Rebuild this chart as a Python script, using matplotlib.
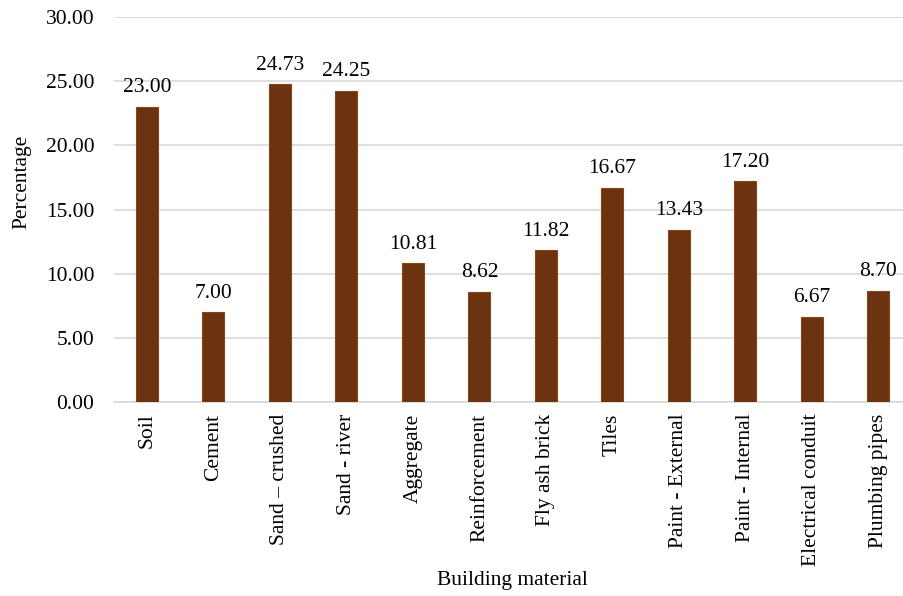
import matplotlib
matplotlib.use("Agg")
import matplotlib.pyplot as plt

categories = ["Soil", "Cement", "Sand \u2013 crushed", "Sand - river", "Aggregate",
              "Reinforcement", "Fly ash brick", "Tiles", "Paint - External",
              "Paint - Internal", "Electrical conduit", "Plumbing pipes"]
values = [23.00, 7.00, 24.73, 24.25, 10.81, 8.62, 11.82, 16.67, 13.43, 17.20, 6.67, 8.70]
yticks = [0, 5, 10, 15, 20, 25, 30]

plt.rcParams['font.family'] = ['Liberation Serif', 'DejaVu Serif']
FS = 15.5

fig = plt.figure(figsize=(9.04, 5.96), dpi=100)
ax = fig.add_axes([0.1258, 0.3247, 0.8827, 0.6473])

x = range(len(categories))
ax.bar(x, values, width=0.33, color='#6B330F', edgecolor='#8A4516',
       linewidth=0.8, zorder=3)

for xi, v in zip(x, values):
    ax.text(xi, v + 0.75, f"{v:.2f}", ha='center', va='bottom', fontsize=FS,
            color='#000000')

ax.set_ylim(0, 30)
ax.set_xlim(-0.5, len(categories) - 0.5)
ax.set_yticks(yticks)
ax.set_yticklabels([f"{t:.2f}" for t in yticks], fontsize=FS)
ax.set_xticks(list(x))
ax.set_xticklabels(categories, rotation=90, fontsize=FS)
ax.tick_params(axis='both', length=0)
ax.tick_params(axis='y', pad=14)
ax.tick_params(axis='x', pad=8)

ax.grid(axis='y', color='#D9D9D9', linewidth=1.2, zorder=0)
for s in ['top', 'right', 'left']:
    ax.spines[s].set_visible(False)
ax.spines['bottom'].set_color('#D9D9D9')
ax.spines['bottom'].set_linewidth(1.2)

ax.set_ylabel("Percentage", fontsize=FS, va='center', ha='center')
ax.yaxis.set_label_coords(-0.1145, 0.571)
ax.set_xlabel("Building material", fontsize=FS, va='center', ha='center')
ax.xaxis.set_label_coords(0.5, -0.462)

fig.savefig("out.png", dpi=100)
